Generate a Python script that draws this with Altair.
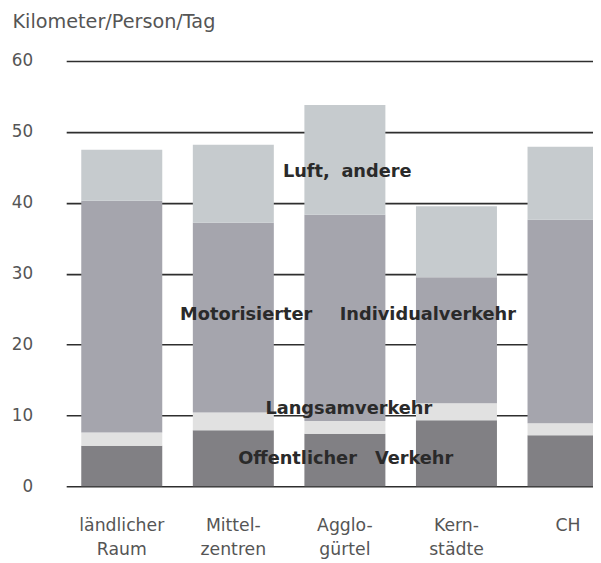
import altair as alt
import pandas as pd

categories = ["ländlicher\nRaum", "Mittel-\nzentren", "Agglo-\ngürtel", "Kern-\nstädte", "CH"]
segments = ["Offentlicher Verkehr", "Langsamverkehr", "Motorisierter Individualverkehr", "Luft, andere"]
oev = [5.7, 7.9, 7.4, 9.3, 7.2]
langsam = [1.9, 2.5, 1.8, 2.4, 1.7]
miv = [32.7, 26.8, 29.1, 17.8, 28.7]
luft = [7.2, 11.0, 15.5, 10.0, 10.3]
colors = ["#818084", "#e1e1e1", "#a5a5ad", "#c6cbce"]

rows = []
for i, c in enumerate(categories):
    for j, (s, vals) in enumerate(zip(segments, [oev, langsam, miv, luft])):
        rows.append({"cat": c, "seg": s, "order": j, "value": vals[i]})
df = pd.DataFrame(rows)

label_text = ["Luft,", "andere", "Motorisierter", "Individualverkehr", "Langsamverkehr", "Offentlicher", "Verkehr"]
label_cat = [categories[1], categories[2], categories[1], categories[3], categories[2], categories[2], categories[3]]
label_y = [44.4, 44.4, 24.2, 24.2, 10.9, 3.9, 3.9]
label_dx = [74, 32, 13, -29, 4, -48, -43]
labels = pd.DataFrame({"text": label_text, "cat": label_cat, "y": label_y, "dx": label_dx})

xscale = alt.Scale(domain=categories, range=[0, 565], paddingInner=0.274, paddingOuter=0.135)

bars = alt.Chart(df).mark_bar().encode(
    x=alt.X("cat:N", scale=xscale, sort=categories,
            axis=alt.Axis(title=None, labelExpr="split(datum.label, '\\n')", labelAngle=0,
                          labelFont="DejaVu Sans", labelFontSize=17.5, labelColor="#555555",
                          labelLineHeight=24, labelPadding=40, ticks=False, domain=False,
                          labelBaseline="middle")),
    y=alt.Y("value:Q", stack="zero",
            scale=alt.Scale(domain=[0, 60], nice=False),
            axis=alt.Axis(values=[0, 10, 20, 30, 40, 50, 60], title="Kilometer/Person/Tag",
                          titleAngle=0, titleAlign="left", titleBaseline="middle",
                          titleX=-55, titleY=-40, titleFont="DejaVu Sans", titleFontSize=19.5,
                          titleFontWeight="normal", titleColor="#555555",
                          labelFont="DejaVu Sans", labelFontSize=17, labelColor="#555555",
                          labelPadding=34, ticks=False, domain=False,
                          grid=True, gridColor="#2e2e2e", gridWidth=1.6)),
    color=alt.Color("seg:N", scale=alt.Scale(domain=segments, range=colors), legend=None),
    order=alt.Order("order:Q"),
)

texts = []
for k in range(len(label_text)):
    texts.append(
        alt.Chart(labels.iloc[[k]]).mark_text(
            font="DejaVu Sans", fontSize=18, fontWeight="bold", color="#2a2a2a",
            dx=label_dx[k], baseline="middle", align="center"
        ).encode(
            x=alt.X("cat:N", scale=xscale, sort=categories),
            y=alt.Y("y:Q"),
            text="text:N",
        )
    )

chart = alt.layer(bars, *texts).properties(
    width=534, height=431,
    autosize=alt.AutoSizeParams(type="none"),
    padding={"left": 59, "top": 50, "right": 0, "bottom": 74},
).configure(background="white", view=alt.ViewConfig(stroke=None))

chart.save("out.html", embed_options={"renderer": "svg", "actions": False})
